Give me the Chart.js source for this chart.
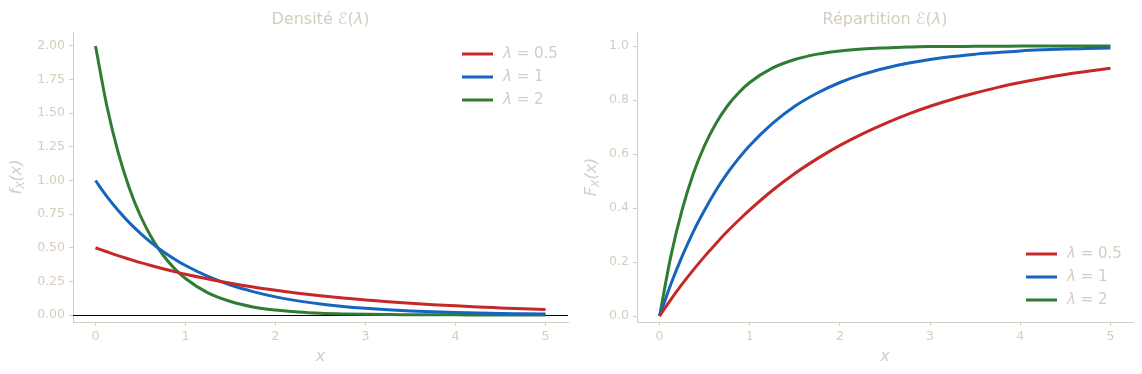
<!DOCTYPE html>
<html>
<head>
<meta charset="utf-8">
<script src="https://cdn.jsdelivr.net/npm/chart.js@4/dist/chart.umd.min.js"></script>
<style>
  html, body { margin:0; padding:0; background:#fff; }
  .box { position:absolute; top:0; width:571px; height:374px; }
  #left { left:0; }
  #right { left:571px; }
</style>
</head>
<body>
<div class="box" id="left"><canvas id="chartPdf"></canvas></div>
<div class="box" id="right"><canvas id="chartCdf"></canvas></div>
<script>
// sample points on x (denser near 0 where curves bend most)
const xs = [0, 0.125, 0.25, 0.375, 0.5, 0.625, 0.75, 0.875, 1, 1.25, 1.5, 1.75, 2, 2.25, 2.5, 2.75, 3, 3.25, 3.5, 3.75, 4, 4.25, 4.5, 4.75, 5];

// densities
const pdfHalf = [0.500, 0.470, 0.441, 0.415, 0.389, 0.366, 0.344, 0.323, 0.303, 0.268, 0.236, 0.208, 0.184, 0.162, 0.143, 0.126, 0.112, 0.098, 0.087, 0.077, 0.068, 0.060, 0.053, 0.046, 0.041];
const pdfOne  = [1.000, 0.882, 0.779, 0.687, 0.607, 0.535, 0.472, 0.417, 0.368, 0.287, 0.223, 0.174, 0.135, 0.105, 0.082, 0.064, 0.050, 0.039, 0.030, 0.024, 0.018, 0.014, 0.011, 0.009, 0.007];
const pdfTwo  = [2.000, 1.558, 1.213, 0.945, 0.736, 0.573, 0.446, 0.348, 0.271, 0.164, 0.100, 0.060, 0.037, 0.022, 0.013, 0.008, 0.005, 0.003, 0.002, 0.001, 0.001, 0.0004, 0.0002, 0.0001, 0.0001];

// distribution functions
const cdfHalf = [0, 0.061, 0.118, 0.171, 0.221, 0.268, 0.313, 0.354, 0.393, 0.465, 0.528, 0.583, 0.632, 0.675, 0.713, 0.747, 0.777, 0.803, 0.826, 0.847, 0.865, 0.881, 0.895, 0.907, 0.918];
const cdfOne  = [0, 0.118, 0.221, 0.313, 0.393, 0.465, 0.528, 0.583, 0.632, 0.713, 0.777, 0.826, 0.865, 0.895, 0.918, 0.936, 0.950, 0.961, 0.970, 0.976, 0.982, 0.986, 0.989, 0.991, 0.993];
const cdfTwo  = [0, 0.221, 0.393, 0.528, 0.632, 0.713, 0.777, 0.826, 0.865, 0.918, 0.950, 0.970, 0.982, 0.989, 0.993, 0.996, 0.998, 0.998, 0.999, 0.999, 1.000, 1.000, 1.000, 1.000, 1.000];

const seriesNames = ["λ = 0.5", "λ = 1", "λ = 2"];
const lambdas = ["0.5", "1", "2"];
const xTicks = [0, 1, 2, 3, 4, 5];
const pdfTicks = [0, 0.25, 0.5, 0.75, 1, 1.25, 1.5, 1.75, 2];
const cdfTicks = [0, 0.2, 0.4, 0.6, 0.8, 1.0];

const colors = ["#c62828", "#1565c0", "#2e7d32"];
const ink = "#d5cdbf";
const FONT = "DejaVu Sans";

function pts(ys){ return xs.map((x,i)=>({x, y:ys[i]})); }

function datasets(list){
  return list.map((ys,i)=>({
    label: seriesNames[i],
    data: pts(ys),
    borderColor: colors[i],
    borderWidth: 3,
    pointRadius: 0,
    cubicInterpolationMode: "monotone",
    fill: false
  }));
}

// draw a run of [text, font, dy] pieces; align: "left" or "center"
function rich(ctx, parts, x, y, align){
  let total = 0;
  parts.forEach(p=>{ ctx.font = p[1]; total += ctx.measureText(p[0]).width; });
  let sx = align === "center" ? x - total/2 : x;
  ctx.textAlign = "left";
  parts.forEach(p=>{
    ctx.font = p[1];
    ctx.fillText(p[0], sx, y + (p[2] || 0));
    sx += ctx.measureText(p[0]).width;
  });
}

// titles, axis labels, legend and the y=0 rule drawn on the canvas
function decor(opt){
  return {
    id: "decor",
    beforeDatasetsDraw(chart){
      if(!opt.zeroLine) return;
      const {ctx, chartArea:a, scales:{y}} = chart;
      const py = Math.round(y.getPixelForValue(0)) + 0.5;
      ctx.save();
      ctx.strokeStyle = "#000";
      ctx.lineWidth = 1;
      ctx.beginPath(); ctx.moveTo(a.left, py); ctx.lineTo(a.right, py); ctx.stroke();
      ctx.restore();
    },
    afterDraw(chart){
      const {ctx, chartArea:a} = chart;
      const n16 = `16px "${FONT}"`, i16 = `italic 16px "${FONT}"`;
      ctx.save();
      ctx.fillStyle = ink;
      ctx.textBaseline = "middle";
      const cx = (a.left + a.right)/2;
      // title
      rich(ctx, [[opt.title + " ", n16], ["ℰ(", n16], ["λ", i16], [")", n16]], cx, 20, "center");
      // x label
      rich(ctx, [["x", i16]], cx, 357, "center");
      // y label, rotated, with subscript
      ctx.translate(opt.yLabelX, (a.top + a.bottom)/2);
      ctx.rotate(-Math.PI/2);
      rich(ctx, [[opt.yLabel, i16], ["X", `italic 11px "${FONT}"`, 4], ["(x)", i16]], 0, 0, "center");
      ctx.restore();
      // legend
      ctx.save();
      ctx.textBaseline = "middle";
      const n15 = `15px "${FONT}"`, i15 = `italic 15px "${FONT}"`;
      lambdas.forEach((lam,i)=>{
        const yy = opt.legendY + i*23;
        ctx.strokeStyle = colors[i];
        ctx.lineWidth = 3;
        ctx.beginPath(); ctx.moveTo(opt.legendX, yy); ctx.lineTo(opt.legendX + 31, yy); ctx.stroke();
        ctx.fillStyle = ink;
        rich(ctx, [["λ", i15], [" = " + lam, n15]], opt.legendX + 41, yy, "left");
      });
      ctx.restore();
    }
  };
}

function makeChart(id, list, yMin, yMax, yTicks, digits, padRight, yWidth, opt){
  return new Chart(document.getElementById(id), {
    type: "line",
    data: { datasets: datasets(list) },
    options: {
      responsive: true,
      maintainAspectRatio: false,
      animation: false,
      layout: { padding: { top: 32, left: 0, right: padRight, bottom: 0 } },
      plugins: { legend: { display:false }, title: { display:false }, tooltip: { enabled:false } },
      scales: {
        x: {
          type: "linear", min: -0.25, max: 5.25,
          afterBuildTicks: s => { s.ticks = xTicks.map(v=>({value:v})); },
          afterFit: s => { s.height = 52; },
          ticks: { color: ink, font: { family: FONT, size: 12.5 }, padding: 3, maxRotation: 0,
                   callback: v => String(v) },
          grid: { display: true, drawOnChartArea: false, drawTicks: true, tickLength: 4, color: ink },
          border: { display: true, color: ink, width: 1 }
        },
        y: {
          type: "linear", min: yMin, max: yMax,
          afterBuildTicks: s => { s.ticks = yTicks.map(v=>({value:v})); },
          afterFit: s => { s.width = yWidth; },
          ticks: { color: ink, font: { family: FONT, size: 12.5 }, padding: 4,
                   callback: v => Number(v).toFixed(digits) },
          grid: { display: true, drawOnChartArea: false, drawTicks: true, tickLength: 4, color: ink },
          border: { display: true, color: ink, width: 1 }
        }
      }
    },
    plugins: [decor(opt)]
  });
}

makeChart("chartPdf", [pdfHalf, pdfOne, pdfTwo], -0.052, 2.104, pdfTicks, 2, 3, 73,
  { title: "Densité", yLabel: "f", yLabelX: 17, zeroLine: true, legendX: 462, legendY: 54 });

makeChart("chartCdf", [cdfHalf, cdfOne, cdfTwo], -0.022, 1.052, cdfTicks, 1, 9, 66,
  { title: "Répartition", yLabel: "F", yLabelX: 21, zeroLine: false, legendX: 455, legendY: 254 });
</script>
</body>
</html>
